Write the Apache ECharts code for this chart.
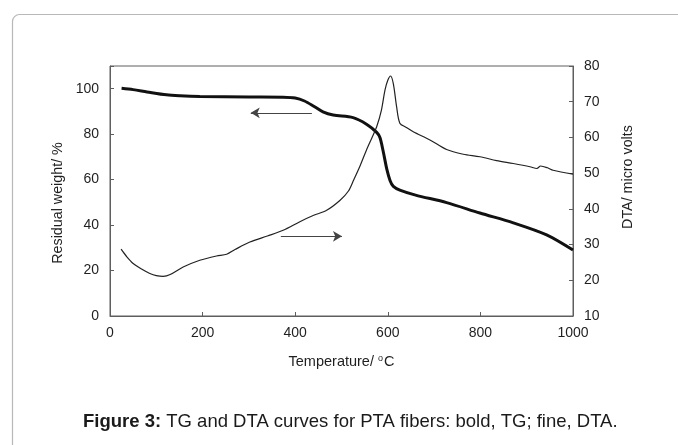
<!DOCTYPE html>
<html>
<head>
<meta charset="utf-8">
<style>
  html, body { margin: 0; padding: 0; background: #fff; }
  #chart { width: 678px; height: 445px; }
</style>
<script src="https://cdn.jsdelivr.net/npm/echarts@6/dist/echarts.min.js"></script>
</head>
<body>
<div id="chart"></div>
<script>
// TG curve (bold, left axis): temperature / residual weight %
const tgTemp = [25, 50, 80, 122, 151, 194, 300, 374, 400, 420, 440, 460, 482, 525, 554, 576, 583, 590, 598, 605, 612, 626, 660, 727, 799, 871, 943, 1000]
const tgWeight = [100.2, 99.6, 98.6, 97.3, 96.9, 96.6, 96.4, 96.3, 95.9, 94.6, 92.3, 89.8, 88.4, 87.3, 84.4, 80.8, 78.5, 72.5, 64.5, 59.5, 57, 55.4, 53.2, 49.9, 45.3, 41, 35.7, 29]

// DTA curve (fine, right axis): temperature / micro volts
const dtaTemp = [24, 35, 50, 70, 86, 100, 115, 130, 158, 194, 230, 252, 270, 302, 340, 374, 410, 440, 468, 497, 515, 526, 540, 554, 566, 576, 586, 594, 600, 606, 612, 619, 626, 640, 655, 691, 727, 763, 799, 835, 871, 907, 922, 930, 945, 957, 1000]
const dtaVolts = [28.7, 26.8, 24.7, 23, 21.9, 21.3, 21.1, 21.6, 23.7, 25.6, 26.8, 27.3, 28.6, 30.7, 32.4, 34, 36.4, 38.2, 39.6, 42.4, 45, 48, 52, 56.5, 60, 63, 67.5, 73.3, 76, 77.2, 75, 68.6, 64, 62.8, 61.6, 59.3, 56.6, 55.3, 54.6, 53.5, 52.7, 51.8, 51.3, 52, 51.5, 50.8, 49.7]

// arrows pointing to the matching axis
const tgArrow = [[436, 89.4], [304, 89.4]]
const dtaArrow = [[369, 32.3], [501, 32.3]]

const caption = 'Figure 3:'
const captionRest = ' TG and DTA curves for PTA fibers: bold, TG; fine, DTA.'

const chart = echarts.init(document.getElementById('chart'))

const axisColor = '#5e5e5e'
const textColor = '#1f1f1f'
const font = 'Liberation Sans, Arial, sans-serif'

const option = {
  animation: false,
  textStyle: { fontFamily: font },
  graphic: [
    {
      type: 'rect',
      shape: { x: 12.5, y: 14.5, width: 720, height: 520, r: 7 },
      style: { fill: 'none', stroke: '#b8b8b8', lineWidth: 1.2 },
      silent: true
    },
    {
      type: 'text',
      x: 83,
      y: 422,
      style: {
        text: '{b|' + caption + '}' + captionRest,
        rich: { b: { fontWeight: 'bold', fontSize: 18.5, fontFamily: font, fill: '#1a1a1a' } },
        fontSize: 18.5,
        fontFamily: font,
        fill: '#1a1a1a',
        verticalAlign: 'middle'
      }
    }
  ],
  grid: {
    left: 110,
    right: 105,
    top: 66,
    bottom: 129,
    show: true,
    borderColor: axisColor,
    borderWidth: 1
  },
  xAxis: {
    type: 'value',
    min: 0,
    max: 1000,
    interval: 200,
    name: 'Temperature/ {s|o}C',
    nameLocation: 'middle',
    nameGap: 38,
    nameTextStyle: {
      fontSize: 14.5,
      color: textColor,
      rich: { s: { fontSize: 9, verticalAlign: 'top', padding: [0, 1, 6, 0], color: textColor } }
    },
    axisLine: { lineStyle: { color: axisColor } },
    axisTick: { inside: true, length: 4, lineStyle: { color: axisColor } },
    axisLabel: { fontSize: 14, color: textColor, margin: 10, formatter: v => String(v) },
    splitLine: { show: false }
  },
  yAxis: [
    {
      type: 'value',
      min: 0,
      max: 110,
      interval: 20,
      name: 'Residual weight/ %',
      nameLocation: 'middle',
      nameGap: 45,
      nameTextStyle: { fontSize: 14.3, color: textColor, padding: [0, 24, 0, 0] },
      axisLine: { show: true, lineStyle: { color: axisColor } },
      axisTick: { inside: true, length: 4, lineStyle: { color: axisColor } },
      axisLabel: {
        fontSize: 14,
        color: textColor,
        margin: 11,
        formatter: v => (v > 100 ? '' : String(v))
      },
      splitLine: { show: false }
    },
    {
      type: 'value',
      min: 10,
      max: 80,
      interval: 10,
      position: 'right',
      name: 'DTA/ micro volts',
      nameLocation: 'middle',
      nameGap: 48,
      nameTextStyle: { fontSize: 14.3, color: textColor, padding: [0, 0, 0, 28] },
      axisLine: { show: true, lineStyle: { color: axisColor } },
      axisTick: { inside: true, length: 4, lineStyle: { color: axisColor } },
      axisLabel: { fontSize: 14, color: textColor, margin: 11 },
      splitLine: { show: false }
    }
  ],
  series: [
    {
      name: 'TG',
      type: 'line',
      yAxisIndex: 0,
      data: tgTemp.map((t, i) => [t, tgWeight[i]]),
      smooth: 0.3,
      showSymbol: false,
      lineStyle: { color: '#111', width: 3 },
      markLine: {
        silent: true,
        symbol: ['none', 'arrow'],
        symbolSize: [8, 9],
        label: { show: false },
        lineStyle: { color: '#444', width: 1, type: 'solid' },
        data: [[{ coord: tgArrow[0] }, { coord: tgArrow[1] }]]
      }
    },
    {
      name: 'DTA',
      type: 'line',
      yAxisIndex: 1,
      data: dtaTemp.map((t, i) => [t, dtaVolts[i]]),
      smooth: 0.3,
      showSymbol: false,
      lineStyle: { color: '#222', width: 1.2 },
      markLine: {
        silent: true,
        symbol: ['none', 'arrow'],
        symbolSize: [8, 9],
        label: { show: false },
        lineStyle: { color: '#444', width: 1, type: 'solid' },
        data: [[{ coord: dtaArrow[0] }, { coord: dtaArrow[1] }]]
      }
    }
  ]
}

chart.setOption(option)

window.addEventListener('resize', () => {
  chart.resize()
})
</script>
</body>
</html>
